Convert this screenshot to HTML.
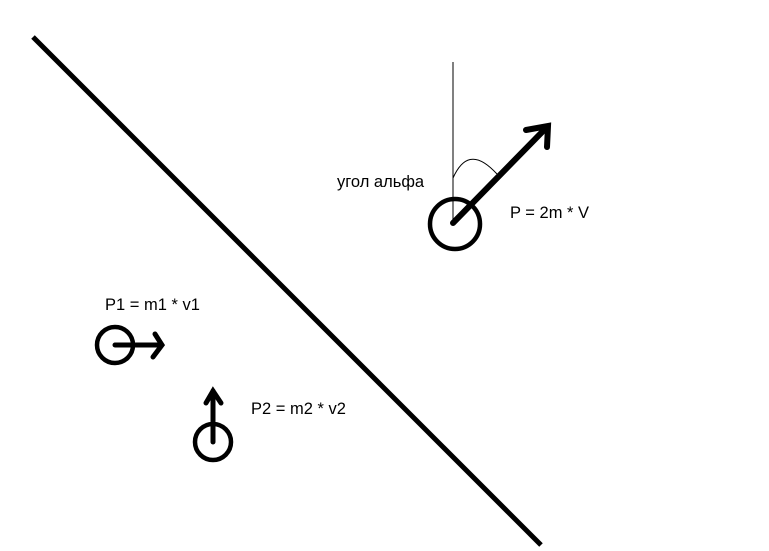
<!DOCTYPE html>
<html><head><meta charset="utf-8"><style>
html,body{margin:0;padding:0;background:#fff;}
svg{display:block;}
text{font-family:"Liberation Sans","DejaVu Sans",sans-serif;font-size:16.5px;fill:#000;}
</style></head><body>
<svg width="769" height="551" viewBox="0 0 769 551" xmlns="http://www.w3.org/2000/svg">
<line x1="33" y1="37" x2="541" y2="545" stroke="#000" stroke-width="5"/>
<line x1="453" y1="62" x2="453" y2="223" stroke="#000" stroke-width="1"/>
<path d="M453,178 C462,158 475,150 497,174" fill="none" stroke="#000" stroke-width="1"/>
<circle cx="455" cy="224" r="25" fill="none" stroke="#000" stroke-width="4.5"/>
<g stroke="#000" stroke-width="6" stroke-linecap="round" fill="none">
<line x1="453" y1="223" x2="547" y2="127"/>
<polyline points="526,130 548,126 547,147"/>
</g>
<circle cx="115" cy="345" r="18" fill="none" stroke="#000" stroke-width="4.5"/>
<g stroke="#000" stroke-width="5" stroke-linecap="round" fill="none">
<line x1="115" y1="345" x2="161" y2="345"/>
<polyline points="155,334 162,345 153,357"/>
</g>
<circle cx="213" cy="442" r="18" fill="none" stroke="#000" stroke-width="4.5"/>
<g stroke="#000" stroke-width="5" stroke-linecap="round" fill="none">
<line x1="213" y1="442" x2="213" y2="391"/>
<polyline points="206,403 213,391 221,403"/>
</g>
<text x="337" y="187">угол альфа</text>
<text x="510" y="218">P = 2m * V</text>
<text x="105" y="310">P1 = m1 * v1</text>
<text x="251" y="414">P2 = m2 * v2</text>
</svg>
</body></html>
